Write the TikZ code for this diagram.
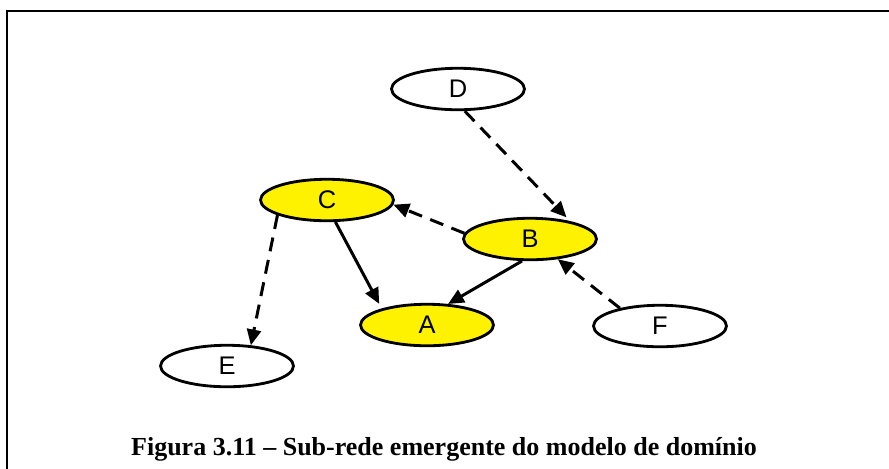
\documentclass[tikz,border=0pt]{standalone}
\usepackage{fontspec}
\setmainfont{Liberation Serif}
\setsansfont{Liberation Sans}
\usetikzlibrary{shapes.geometric,arrows.meta}
\begin{document}
\begin{tikzpicture}[x=0.02cm, y=-0.02cm,
  no/.style={draw, ellipse, line width=1.6pt, minimum width=2.66cm, minimum height=0.83cm, inner sep=0pt, font=\sffamily\fontsize{14.5}{14.5}\selectfont},
  ativo/.style={no, fill=yellow},
  arco/.style={line width=1.7pt, -{Triangle[length=9pt, width=8pt]}},
  tracejado/.style={arco, dash pattern=on 8pt off 5pt}]
  \useasboundingbox (0,0) rectangle (889,468);
  \draw[line width=1.4pt] (7,480) -- (7,11) -- (900,11);
  \node[no] (d) at (458,89) {D};
  \node[ativo] (c) at (327,200) {C};
  \node[ativo] (b) at (530,239) {B};
  \node[ativo] (a) at (427,325) {A};
  \node[no] (e) at (227,366) {E};
  \node[no] (f) at (660,326) {F};
  \draw[tracejado, shorten >=3pt] (d.-73) -- (b.24);
  \draw[tracejado] (b.175) -- (c.-4);
  \draw[tracejado] (f.156) -- (b.-36);
  \draw[tracejado] (c.197) -- (e.41);
  \draw[arco, shorten >=3pt] (c.-69) -- (a.160);
  \draw[arco] (b.-110) -- (a.45);
  \node[font=\bfseries\fontsize{14.8}{15}\selectfont] (legenda) at (444,449) {Figura 3.11 -- Sub-rede emergente do modelo de domínio};
\end{tikzpicture}
\end{document}
